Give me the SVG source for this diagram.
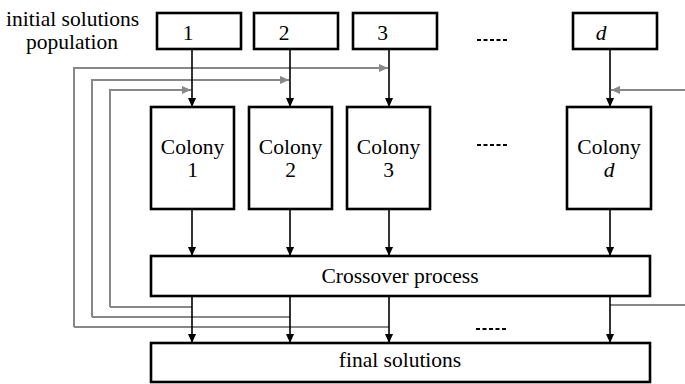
<svg xmlns="http://www.w3.org/2000/svg" width="685" height="384" viewBox="0 0 685 384">
<style>
.box{fill:#fff;stroke:#000;stroke-width:2.6}
.t{font-family:'Liberation Serif','Times New Roman',Times,serif;font-size:21.5px;fill:#000}
.c{text-anchor:middle}
.ar{fill:none;stroke:#000;stroke-width:1.6}
.g{fill:none;stroke:#888;stroke-width:2}
.dots{fill:none;stroke:#000;stroke-width:2;stroke-dasharray:4 2.5}
</style>
<defs>
<marker id="ab" viewBox="0 0 10 10" refX="10" refY="5" markerWidth="9" markerHeight="9" markerUnits="userSpaceOnUse" orient="auto"><path d="M0,0.5 L10,5 L0,9.5 Z" fill="#000"/></marker>
<marker id="ag" viewBox="0 0 10 10" refX="10" refY="5" markerWidth="9" markerHeight="9" markerUnits="userSpaceOnUse" orient="auto"><path d="M0,0.5 L10,5 L0,9.5 Z" fill="#888"/></marker>
</defs>
<g id="label-initial">
<text class="t" x="6" y="26">initial solutions</text>
<text class="t c" x="72" y="49">population</text>
</g>
<g id="connectors">
<path class="g" d="M110,307 V90 H191" marker-end="url(#ag)"/>
<path class="g" d="M192,307 H110"/>
<path class="g" d="M92,317 V80 H289" marker-end="url(#ag)"/>
<path class="g" d="M290,317 H92"/>
<path class="g" d="M74,327 V68 H388" marker-end="url(#ag)"/>
<path class="g" d="M389,327 H74"/>
<path class="g" d="M685,90 H611" marker-end="url(#ag)"/>
<path class="g" d="M610,305 H685"/>
<path class="ar" d="M192,49 V107" marker-end="url(#ab)"/>
<path class="ar" d="M290,49 V107" marker-end="url(#ab)"/>
<path class="ar" d="M389,49 V107" marker-end="url(#ab)"/>
<path class="ar" d="M610,49 V107" marker-end="url(#ab)"/>
<path class="ar" d="M192,209 V256" marker-end="url(#ab)"/>
<path class="ar" d="M290,209 V256" marker-end="url(#ab)"/>
<path class="ar" d="M389,209 V256" marker-end="url(#ab)"/>
<path class="ar" d="M610,209 V256" marker-end="url(#ab)"/>
<path class="ar" d="M192,296 V343" marker-end="url(#ab)"/>
<path class="ar" d="M290,296 V343" marker-end="url(#ab)"/>
<path class="ar" d="M389,296 V343" marker-end="url(#ab)"/>
<path class="ar" d="M610,296 V343" marker-end="url(#ab)"/>
<path class="dots" d="M477,40 H508"/>
<path class="dots" d="M477,145 H508"/>
<path class="dots" d="M476,329 H508"/>
</g>
<g id="pop1"><rect class="box" x="157" y="13" width="84" height="36"/><text class="t c" x="188" y="40">1</text></g>
<g id="pop2"><rect class="box" x="254" y="13" width="84" height="36"/><text class="t c" x="284" y="40">2</text></g>
<g id="pop3"><rect class="box" x="353" y="13" width="84" height="36"/><text class="t c" x="382.5" y="40">3</text></g>
<g id="popd"><rect class="box" x="573" y="13" width="84" height="36"/><text class="t c" x="601" y="40" font-style="italic">d</text></g>
<g id="colony1"><rect class="box" x="151" y="107" width="83" height="102"/><text class="t c" x="192.5" y="154">Colony</text><text class="t c" x="192.5" y="177">1</text></g>
<g id="colony2"><rect class="box" x="249" y="107" width="83" height="102"/><text class="t c" x="290.5" y="154">Colony</text><text class="t c" x="290.5" y="177">2</text></g>
<g id="colony3"><rect class="box" x="347" y="107" width="83" height="102"/><text class="t c" x="388.5" y="154">Colony</text><text class="t c" x="388.5" y="177">3</text></g>
<g id="colonyd"><rect class="box" x="567" y="107" width="84" height="102"/><text class="t c" x="609" y="154">Colony</text><text class="t c" x="609" y="177" font-style="italic">d</text></g>
<g id="crossover"><rect class="box" x="151" y="256" width="499" height="40"/><text class="t c" x="400" y="283">Crossover process</text></g>
<g id="final"><rect class="box" x="151" y="343" width="499" height="39"/><text class="t c" x="400" y="367">final solutions</text></g>
</svg>
